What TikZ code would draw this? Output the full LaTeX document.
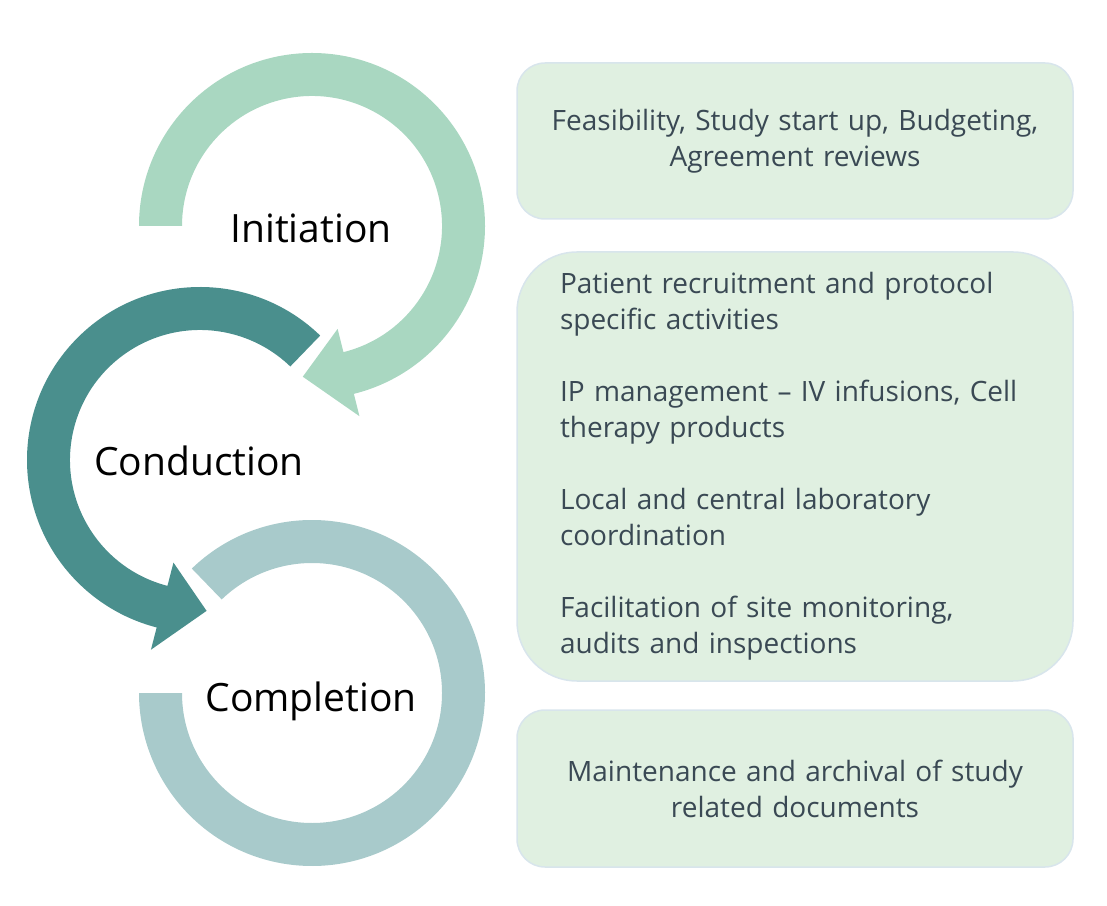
\documentclass[tikz,border=0pt]{standalone}
\usepackage{fontspec}
\setmainfont{Open Sans}
\usetikzlibrary{calc}

\definecolor{initgreen}{HTML}{A9D7C1}
\definecolor{conductteal}{HTML}{4A8F8D}
\definecolor{completegrey}{HTML}{A8CACB}
\definecolor{boxfill}{HTML}{E0F0E1}
\definecolor{boxline}{HTML}{D8E5EC}
\definecolor{boxtext}{HTML}{3A4954}

\tikzset{
  phase/.style={font=\fontsize{39}{47}\selectfont,text=black,inner sep=0pt,anchor=base},
  infobox/.style={draw=boxline,line width=1.5pt,fill=boxfill,rounded corners=28pt,
    minimum width=556pt,text width=470pt,inner sep=0pt,text=boxtext,
    font=\fontsize{28}{36}\selectfont},
}

\begin{document}
\begin{tikzpicture}[x=1pt,y=1pt]
  \useasboundingbox (0,0) rectangle (1107,905);

  % Circle centres
  \coordinate (ci) at (312,679);
  \coordinate (cc) at (200,445);
  \coordinate (cp) at (312,212);

  % Initiation arrow (clockwise, head at the bottom)
  \fill[initgreen] ($(ci)+(180:173)$) arc[start angle=180,end angle=-76,radius=173]
    -- ($(ci)+(-76:196)$) -- ($(ci)+(-93.5:151)$) -- ($(ci)+(-76:106)$)
    -- ($(ci)+(-76:130)$) arc[start angle=-76,end angle=180,radius=130] -- cycle;

  % Conduction arrow (counter-clockwise)
  \fill[conductteal] ($(cc)+(46:173)$) arc[start angle=46,end angle=255.5,radius=173]
    -- ($(cc)+(255.5:196)$) -- ($(cc)+(272.5:151)$) -- ($(cc)+(255.5:106)$)
    -- ($(cc)+(255.5:130)$) arc[start angle=255.5,end angle=46,radius=130] -- cycle;

  % Completion ring, no head
  \fill[completegrey] ($(cp)+(134:173)$) arc[start angle=134,end angle=-180,radius=173]
    -- ($(cp)+(180:130)$) arc[start angle=-180,end angle=134,radius=130] -- cycle;

  % Phase labels
  \node[phase] (init) at (311,662) {Initiation};
  \node[phase] (cond) at (199,429) {Conduction};
  \node[phase] (comp) at (311,194) {Completion};

  % Activity boxes
  \node[infobox,minimum height=156pt,text width=530pt,align=center] (initbox) at (795,764)
    {Feasibility, Study start up, Budgeting,\\Agreement reviews};
  \node[infobox,minimum height=429pt,rounded corners=60pt,align=left] (condbox) at (795,438.5)
    {Patient recruitment and protocol\\specific activities\\[36pt]
     IP management -- IV infusions, Cell\\therapy products\\[36pt]
     Local and central laboratory\\coordination\\[36pt]
     Facilitation of site monitoring,\\audits and inspections};
  \node[infobox,minimum height=157pt,text width=530pt,align=center] (compbox) at (795,116.5)
    {Maintenance and archival of study\\related documents};
\end{tikzpicture}
\end{document}
